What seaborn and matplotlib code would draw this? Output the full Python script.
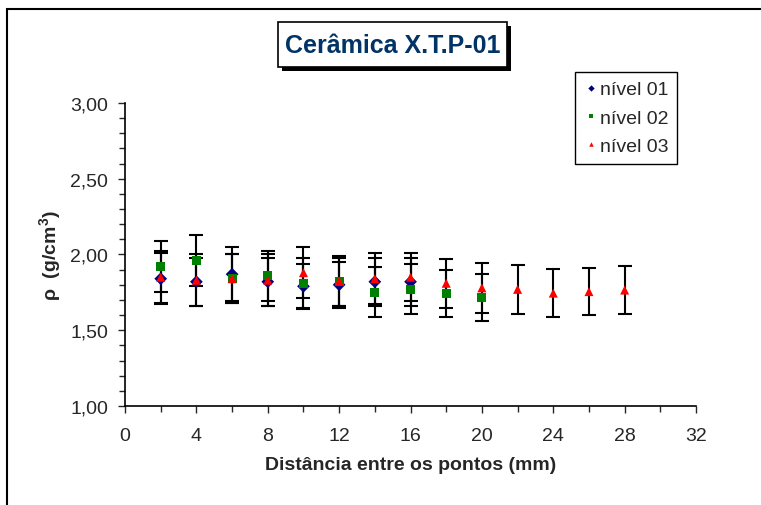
import numpy as np
import pandas as pd
import matplotlib
matplotlib.use("Agg")
import matplotlib.pyplot as plt
from matplotlib.patches import Rectangle
from matplotlib.ticker import MultipleLocator, FuncFormatter
import seaborn as sns

# data
dist_01 = [2, 4, 6, 8, 10, 12, 14, 16]
rho_01 = [1.84, 1.82, 1.87, 1.82, 1.79, 1.80, 1.82, 1.82]
err_01 = [0.17, 0.16, 0.18, 0.16, 0.15, 0.15, 0.16, 0.16]

dist_02 = [2, 4, 6, 8, 10, 12, 14, 16, 18, 20]
rho_02 = [1.92, 1.96, 1.84, 1.86, 1.81, 1.82, 1.75, 1.77, 1.74, 1.715]
err_02 = [0.17, 0.17, 0.16, 0.165, 0.165, 0.16, 0.165, 0.165, 0.155, 0.155]

dist_03 = [2, 4, 6, 8, 10, 12, 14, 16, 18, 20, 22, 24, 26, 28]
rho_03 = [1.85, 1.83, 1.84, 1.83, 1.88, 1.825, 1.84, 1.85, 1.81, 1.78, 1.77, 1.745, 1.755, 1.765]
err_03 = [0.17, 0.17, 0.16, 0.17, 0.17, 0.165, 0.17, 0.16, 0.16, 0.165, 0.163, 0.157, 0.157, 0.158]

levels = ["nível 01", "nível 02", "nível 03"]
colors = ["#000080", "#008000", "#FF0000"]

df = pd.concat([
    pd.DataFrame({"dist": dist_01, "rho": rho_01, "err": err_01, "nivel": levels[0]}),
    pd.DataFrame({"dist": dist_02, "rho": rho_02, "err": err_02, "nivel": levels[1]}),
    pd.DataFrame({"dist": dist_03, "rho": rho_03, "err": err_03, "nivel": levels[2]}),
], ignore_index=True)

sns.set_style("ticks")
plt.rcParams["font.family"] = ["Liberation Sans", "DejaVu Sans"]
plt.rcParams["mathtext.fontset"] = "custom"
plt.rcParams["mathtext.rm"] = "Liberation Sans"
plt.rcParams["mathtext.bf"] = "Liberation Sans:bold"

fig = plt.figure(figsize=(7.61, 5.06), dpi=100)
ax = fig.add_axes([0.1643, 0.1957, 0.7503, 0.5988])

# error bars first, markers on top
for lev in levels:
    sub = df[df["nivel"] == lev]
    ax.errorbar(sub["dist"], sub["rho"], yerr=sub["err"], fmt="none",
                ecolor="black", elinewidth=1.5, capsize=5, capthick=1.5, zorder=2)

sns.scatterplot(data=df, x="dist", y="rho", hue="nivel", style="nivel",
                palette=colors, markers=["D", "s", "^"], hue_order=levels,
                style_order=levels, s=42, linewidth=0, ax=ax, zorder=3)

ax.set_xlim(0, 32)
ax.set_ylim(1.0, 3.0)
ax.xaxis.set_major_locator(MultipleLocator(4))
ax.xaxis.set_minor_locator(MultipleLocator(2))
ax.yaxis.set_major_locator(MultipleLocator(0.5))
ax.yaxis.set_minor_locator(MultipleLocator(0.1))
ax.yaxis.set_major_formatter(FuncFormatter(lambda v, p: f"{v:.2f}".replace(".", ",")))
ax.tick_params(axis="both", which="major", labelsize=14, length=5, width=1, direction="out")
ax.tick_params(axis="both", which="minor", length=4, width=1, direction="out")
ax.tick_params(axis="x", pad=10)
ax.tick_params(axis="y", pad=7)
sns.despine(ax=ax)
for sp in ["left", "bottom"]:
    ax.spines[sp].set_linewidth(1.2)
    ax.spines[sp].set_color("black")

ax.set_xlabel("Distância entre os pontos (mm)", fontsize=14, fontweight="bold", labelpad=9)
ax.set_ylabel(r"ρ  (g/cm$^\mathbf{3}$)", fontsize=14, fontweight="bold", labelpad=5)

leg = ax.legend(loc="upper right", bbox_to_anchor=(677 / 761, 1 - 73 / 506),
                bbox_transform=fig.transFigure, frameon=True, fancybox=False,
                fontsize=14, handletextpad=0.1, borderpad=0.45, labelspacing=0.55,
                handlelength=0.7, markerscale=0.5, borderaxespad=0)
leg.get_frame().set_edgecolor("black")
leg.get_frame().set_linewidth(1)
leg.get_frame().set_alpha(1)

# title box with shadow
fig.patches.append(Rectangle((282 / 761, 1 - 72 / 506), 229 / 761, 45 / 506,
                             transform=fig.transFigure, fc="black", ec="none", zorder=0.5))
fig.patches.append(Rectangle((278 / 761, 1 - 68 / 506), 229 / 761, 45 / 506,
                             transform=fig.transFigure, fc="white", ec="black", lw=1.2, zorder=1))
fig.text(393 / 761, 1 - 46 / 506, "Cerâmica X.T.P-01", fontsize=18, fontweight="bold",
         color="#003366", ha="center", va="center", zorder=3)

# outer frame of the chart area
fig.patches.append(Rectangle((7 / 761, -0.1), 1.2, 1.1 - 10 / 506, transform=fig.transFigure,
                             fill=False, ec="black", lw=1.5))

fig.savefig("out.png", dpi=100)
